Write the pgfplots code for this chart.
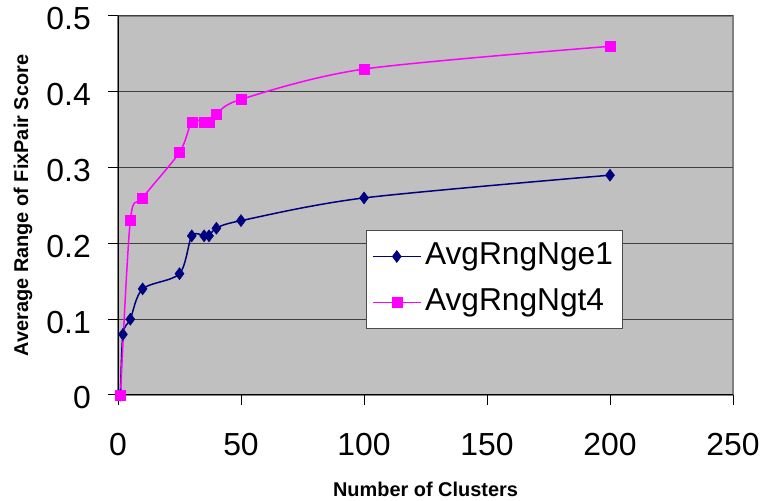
\documentclass[border=0pt]{standalone}
\usepackage{pgfplots}
\pgfplotsset{compat=1.18}
\usepackage{fontspec}
\setmainfont{Liberation Sans}
\definecolor{plotbg}{RGB}{192,192,192}
\definecolor{navyc}{RGB}{0,0,128}
\definecolor{magc}{RGB}{255,0,255}
\begin{document}
\begin{tikzpicture}
\useasboundingbox (0,0) rectangle (762bp,501bp);
\begin{axis}[
  at={(118bp,106bp)}, anchor=south west,
  scale only axis, width=615bp, height=379bp,
  xmin=0, xmax=250, ymin=0, ymax=0.5,
  xtick={0,50,100,150,200,250},
  ytick={0,0.1,0.2,0.3,0.4,0.5},
  axis x line=bottom, axis y line=left,
  x axis line style={-, black, line width=1bp},
  y axis line style={-, black, line width=1bp},
  axis background/.style={fill=plotbg, draw=black!50, line width=1.2bp},
  tick align=outside,
  major tick length=10bp,
  tick style={black, line width=1bp},
  ymajorgrids,
  major grid style={black!75, line width=1bp},
  /pgf/number format/assume math mode=true,
  ticklabel style={font=\fontsize{32}{36}\selectfont},
  yticklabel style={anchor=east, inner sep=0pt, xshift=-17bp, yshift=-3bp},
  xticklabel style={anchor=north, inner sep=0pt, yshift=-28bp},
  xlabel={Number of Clusters},
  ylabel={Average Range of FixPair Score},
  label style={font=\bfseries\fontsize{20}{24}\selectfont},
  xlabel style={at={(axis description cs:0.5,-0.2665)}, anchor=base},
  ylabel style={at={(axis description cs:-0.1463,0.5)}, anchor=base, rotate=0},
  legend style={at={(0.4033,0.4354)}, anchor=north west, draw=black!70,
    line width=1bp, fill=white, inner xsep=6bp, inner ysep=3bp,
    font=\fontsize{31.8}{36}\selectfont,
    nodes={inner xsep=4bp, inner ysep=9bp, text height=22bp, text depth=6bp}},
  legend cell align=left,
  legend image code/.code={\draw[mark repeat=2,mark phase=2,#1] plot coordinates {(1bp,0bp) (24.5bp,0bp) (48bp,0bp)};},
]
\addplot[navyc, line width=1.5bp, smooth, tension=0.5, mark=diamond*, mark size=6bp,
  mark options={solid, fill=navyc, line width=0.5bp}]
  coordinates {(1,0) (2,0.08) (5,0.10) (10,0.14) (25,0.16) (30,0.21) (35,0.21) (37,0.21) (40,0.22) (50,0.23) (100,0.26) (200,0.29)};
\addlegendentry{AvgRngNge1}
\addplot[magc, line width=1.5bp, smooth, tension=0.5, mark=square*, mark size=5bp,
  mark options={solid, fill=magc, line width=0.5bp}]
  coordinates {(1,0) (5,0.23) (10,0.26) (25,0.32) (30,0.36) (35,0.36) (37,0.36) (40,0.37) (50,0.39) (100,0.43) (200,0.46)};
\addlegendentry{AvgRngNgt4}
\end{axis}
\end{tikzpicture}
\end{document}
